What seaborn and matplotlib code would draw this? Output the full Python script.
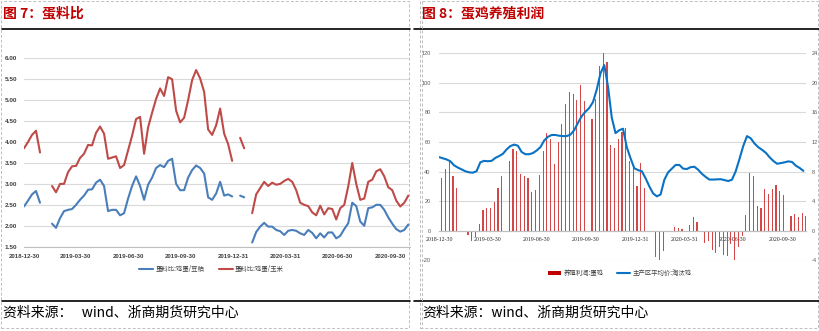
import numpy as np
import pandas as pd
import matplotlib
matplotlib.use("Agg")
import matplotlib.pyplot as plt
import seaborn as sns
from matplotlib.lines import Line2D
from matplotlib.patches import Patch, Rectangle

sns.set_theme(style="white")
plt.rcParams["font.family"] = ["Noto Sans CJK SC", "DejaVu Sans"]
plt.rcParams["axes.unicode_minus"] = False

nan = np.nan

# ---------------- data ----------------
# weekly egg/feed price ratios, starting 2018-12-30
ratio_start = "2018-12-30"
egg_soymeal = [
    2.46, 2.60, 2.75, 2.83, 2.55, nan, nan, 2.05, 1.95, 2.18,
    2.35, 2.38, 2.40, 2.50, 2.62, 2.72, 2.86, 2.87, 3.03, 3.10,
    2.95, 2.35, 2.38, 2.38, 2.25, 2.30, 2.65, 2.95, 3.18, 2.95,
    2.62, 2.98, 3.15, 3.38, 3.45, 3.40, 3.55, 3.60, 3.00, 2.85,
    2.85, 3.15, 3.33, 3.44, 3.38, 3.25, 2.68, 2.62, 2.77, 3.05,
    2.72, 2.75, 2.70, nan, 2.72, 2.68, nan, 1.60, 1.85, 1.98,
    2.07, 1.98, 1.98, 1.90, 1.87, 1.78, 1.88, 1.90, 1.88, 1.82,
    1.78, 1.90, 1.83, 1.70, 1.82, 1.72, 1.84, 1.84, 1.70, 1.76,
    1.92, 2.06, 2.55, 2.47, 2.10, 2.00, 2.42, 2.44, 2.50, 2.50,
    2.38, 2.20, 2.05, 1.92, 1.86, 1.90, 2.03,
]
egg_corn = [
    3.85, 4.00, 4.17, 4.27, 3.75, nan, nan, 2.95, 2.80, 3.00,
    3.00, 3.28, 3.42, 3.43, 3.62, 3.72, 3.93, 3.92, 4.22, 4.37,
    4.20, 3.60, 3.63, 3.66, 3.38, 3.45, 3.80, 4.15, 4.55, 4.60,
    3.72, 4.35, 4.70, 5.03, 5.28, 5.10, 5.55, 5.50, 4.75, 4.47,
    4.58, 5.00, 5.48, 5.72, 5.52, 5.20, 4.30, 4.17, 4.40, 4.80,
    4.20, 3.95, 3.55, nan, 4.10, 3.85, nan, 2.30, 2.75, 2.90,
    3.05, 2.95, 3.03, 2.98, 3.00, 3.07, 3.12, 3.05, 2.85, 2.55,
    2.50, 2.47, 2.32, 2.25, 2.48, 2.27, 2.42, 2.40, 2.15, 2.42,
    2.50, 2.94, 3.50, 3.00, 2.62, 2.65, 3.05, 3.10, 3.30, 3.35,
    3.18, 2.92, 2.85, 2.60, 2.46, 2.55, 2.72,
]
ratio_labels = ["蛋料比:鸡蛋/豆粕", "蛋料比:鸡蛋/玉米"]

# weekly layer-farming profit (yuan per hen), starting 2019-01-04
profit_start = "2019-01-04"
layer_profit = [
    35.9, 41.5, 46.7, 36.8, 28.7, nan, nan, -2.7, -7.2, -4.0,
    4.5, 14.1, 15.7, 15.7, 19.5, 28.7, 37.0, nan, 47.1, 55.4,
    53.8, 38.1, 37.2, 35.4, 26.5, 27.4, 37.7, 53.8, 66.2, 62.0,
    44.9, 60.1, 72.5, 85.7, 93.8, 92.6, 88.6, 98.7, 87.5, nan,
    75.8, 89.0, 111.7, 120.0, 114.4, 58.3, 56.0, 62.0, 67.0, 69.5,
    47.1, 43.7, 30.3, 45.5, 28.7, nan, nan, -17.5, -20.2, -13.5,
    -0.4, -0.6, 2.6, 1.7, 1.1, -0.5, 3.8, 9.5, 6.0, -0.5,
    -8.3, -6.7, -13.2, -15.1, -11.1, -16.7, -16.8, -9.0, -20.1, -11.1,
    -3.9, 10.8, 38.9, 36.9, 16.6, 15.2, 28.5, 25.0, 28.3, 31.0,
    26.7, 24.1, nan, 10.2, 11.3, 9.4, 12.0, 9.7,
]

# weekly average cull-hen price in main producing areas, starting 2018-12-30
cull_start = "2018-12-30"
cull_hen_price = [
    9.96, 9.80, 9.65, 9.40, 8.85, 8.55, 8.30, 8.05, 7.90, 7.85,
    8.05, 9.25, 9.45, 9.40, 9.45, 9.85, 10.10, 10.40, 11.00, 11.45,
    11.65, 11.50, 10.65, 10.35, 10.35, 10.50, 10.85, 11.30, 12.20, 12.70,
    12.95, 12.95, 12.85, 12.80, 12.80, 13.00, 13.60, 14.60, 15.50, 16.10,
    16.60, 17.40, 19.10, 21.30, 22.40, 19.50, 15.30, 13.20, 13.60, 13.80,
    11.30, 9.80, 8.45, 8.20, 8.05, 7.10, 6.00, 5.05, 4.65, 4.90,
    6.90, 7.90, 8.40, 8.90, 8.90, 8.40, 8.35, 8.60, 8.65, 8.25,
    7.70, 7.28, 6.92, 6.92, 6.95, 6.97, 6.85, 6.72, 6.90, 8.05,
    9.70, 11.45, 12.80, 12.50, 11.80, 11.30, 10.95, 10.55, 9.95, 9.45,
    9.06, 9.15, 9.25, 9.38, 9.30, 8.80, 8.50, 8.10,
]
profit_labels = ["养殖利润:蛋鸡", "主产区平均价:淘汰鸡"]

quarter_ticks = ["2018-12-30", "2019-03-30", "2019-06-30", "2019-09-30",
                 "2019-12-31", "2020-03-31", "2020-06-30", "2020-09-30"]
left_yticks = [1.5, 2.0, 2.5, 3.0, 3.5, 4.0, 4.5, 5.0, 5.5, 6.0]
profit_yticks = [-20, 0, 20, 40, 60, 80, 100, 120]
price_yticks = [-4, 0, 4, 8, 12, 16, 20, 24]

# ---------------- styling ----------------
BLUE = "#4A7EBB"
RED = "#BE4B48"
BAR_RED = "#D24848"
PRICE_BLUE = "#0A72C4"
GRID = "#D9D9D9"
TITLE_RED = "#C00000"

W, H = 820, 331
fig = plt.figure(figsize=(W / 100, H / 100), dpi=100)
fig.patch.set_facecolor("white")


def fx(px):
    return px / W


def fy(py):
    return 1 - py / H


def weekly(start, n):
    return pd.date_range(start, periods=n, freq="7D")


def draw_line(ax, dates, values, color, lw):
    vals = pd.Series(values, dtype=float)
    df = pd.DataFrame({"date": dates, "value": vals,
                       "seg": vals.isna().cumsum()}).dropna()
    sns.lineplot(data=df, x="date", y="value", units="seg", estimator=None,
                 color=color, lw=lw, ax=ax, legend=False)
    ax.set_xlabel("")
    ax.set_ylabel("")


qt = pd.to_datetime(quarter_ticks)

# ---------------- left: egg/feed ratios ----------------
ax1 = fig.add_axes([fx(24), fy(246.7), fx(410 - 24), (246.7 - 58.3) / H])
ratio_dates = weekly(ratio_start, len(egg_soymeal))
draw_line(ax1, ratio_dates, egg_soymeal, BLUE, 1.5)
draw_line(ax1, ratio_dates, egg_corn, RED, 1.5)
ax1.set_xlim(pd.Timestamp("2018-12-30"), pd.Timestamp("2020-11-04"))
ax1.set_ylim(1.5, 6.0)
ax1.set_yticks(left_yticks)
ax1.set_yticklabels([f"{v:.2f}" for v in left_yticks],
                    fontfamily="Liberation Sans", fontweight="bold",
                    fontsize=4.6, color="#404040")
ax1.set_xticks(qt)
ax1.set_xticklabels(quarter_ticks, fontfamily="Liberation Sans",
                    fontweight="bold", fontsize=4.4, color="#404040")
ax1.grid(axis="y", color=GRID, lw=0.8)
ax1.set_axisbelow(True)
for s in ("left", "right", "top"):
    ax1.spines[s].set_visible(False)
ax1.spines["bottom"].set_color("#BFBFBF")
ax1.spines["bottom"].set_linewidth(0.8)
ax1.tick_params(axis="x", length=2, width=0.6, color="#BFBFBF", pad=3)
ax1.tick_params(axis="y", length=0, pad=5)

# ---------------- right: layer profit & cull-hen price ----------------
ax2 = fig.add_axes([fx(439), fy(260.3), fx(806 - 439), (260.3 - 53.3) / H])
profit_dates = weekly(profit_start, len(layer_profit))
ax2.bar(profit_dates, layer_profit, width=2.2, color=BAR_RED, linewidth=0)

ax2r = ax2.twinx()
cull_dates = weekly(cull_start, len(cull_hen_price))
draw_line(ax2r, cull_dates, cull_hen_price, PRICE_BLUE, 1.5)
ax2r.xaxis.set_visible(False)

# the date axis sits on the zero line; place it before styling ticks
for s in ("left", "right", "top"):
    ax2.spines[s].set_visible(False)
ax2.spines["bottom"].set_position(("data", 0))
ax2.spines["bottom"].set_color("#BFBFBF")
ax2.spines["bottom"].set_linewidth(0.8)

xlim2 = (pd.Timestamp("2018-12-30"), pd.Timestamp("2020-11-13"))
ax2.set_xlim(*xlim2)
ax2.set_ylim(-20, 120)
ax2.set_yticks(profit_yticks)
ax2.set_yticklabels([str(v) for v in profit_yticks],
                    fontfamily="Liberation Sans", fontsize=4.0,
                    color="#595959")
ax2.set_xticks(qt)
ax2.set_xticklabels(quarter_ticks, fontfamily="Liberation Serif",
                    fontsize=4.2, color="#262626")
ax2.grid(axis="y", color=GRID, lw=0.8)
ax2.set_axisbelow(True)
ax2.tick_params(axis="x", length=2, width=0.6, color="#BFBFBF", pad=2.5)
ax2.tick_params(axis="y", length=0, pad=6)

ax2r.set_ylim(-4, 24)
ax2r.set_yticks(price_yticks)
ax2r.set_yticklabels([str(v) for v in price_yticks],
                     fontfamily="Liberation Sans", fontsize=4.0,
                     color="#595959")
for s in ax2r.spines.values():
    s.set_visible(False)
ax2r.tick_params(axis="y", length=0, pad=4)
ax2r.grid(False)

# ---------------- legends ----------------
fig.legend(
    handles=[Line2D([], [], color=BLUE, lw=1.5), Line2D([], [], color=RED, lw=1.5)],
    labels=ratio_labels, loc="center", bbox_to_anchor=(fx(211.5), fy(269)),
    ncol=2, frameon=False, fontsize=4.6, handlelength=2.2,
    handletextpad=0.4, columnspacing=2.2, labelcolor="#404040")
fig.legend(
    handles=[Patch(facecolor=TITLE_RED, edgecolor="none"),
             Line2D([], [], color=PRICE_BLUE, lw=1.5)],
    labels=profit_labels, loc="center", bbox_to_anchor=(fx(620), fy(273)),
    ncol=2, frameon=False, fontsize=4.6, handlelength=2.0,
    handletextpad=0.4, columnspacing=2.2, labelcolor="#404040")

# ---------------- titles, rules, sources, panel frames ----------------
fig.text(fx(3), fy(13), "图 7：蛋料比", fontsize=10, fontweight="bold",
         color=TITLE_RED, va="center", ha="left")
fig.text(fx(422), fy(13), "图 8：蛋鸡养殖利润", fontsize=10, fontweight="bold",
         color=TITLE_RED, va="center", ha="left")

for x0, x1 in ((2, 410), (414, 820)):
    for yy in (28.5, 301):
        fig.add_artist(Line2D([fx(x0), fx(x1)], [fy(yy), fy(yy)],
                              color="black", lw=1.2))

fig.text(fx(3), fy(313), "资料来源：   wind、浙商期货研究中心", fontsize=10,
         color="black", va="center", ha="left")
fig.text(fx(422), fy(313), "资料来源：wind、浙商期货研究中心", fontsize=10,
         color="black", va="center", ha="left")

for (x0, x1) in ((1.5, 409.5), (420, 818)):
    fig.add_artist(Rectangle((fx(x0), fy(328)), fx(x1 - x0), (328 - 1) / H,
                             fill=False, edgecolor="#BFBFBF", lw=0.7,
                             linestyle=(0, (3, 2))))
fig.add_artist(Line2D([fx(422.5), fx(422.5)], [fy(1), fy(328)],
                      color="#BFBFBF", lw=0.7, linestyle=(0, (3, 2))))

fig.savefig("out.png", dpi=100)
